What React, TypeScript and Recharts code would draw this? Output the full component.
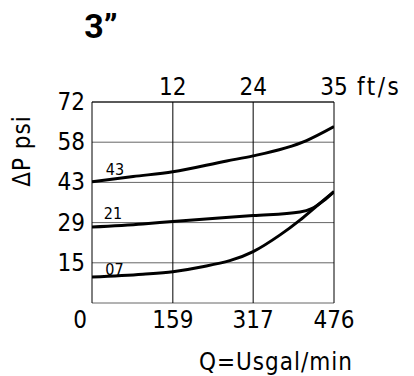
import { LineChart, Line, XAxis, YAxis, CartesianGrid, ReferenceLine } from 'recharts'

// flow (US gal/min) on the bottom, velocity (ft/s) on top, pressure drop (psi) up the side
const flowTicks = [0, 159, 317, 476]
const flowLabels = ['0', '159', '317', '476']
const velocityTicks = [159, 317, 476]
const velocityLabels = ['12', '24', '35']
const psiTicks = [0, 14.4, 28.8, 43.2, 57.6, 72]
const psiLabels = ['', '15', '29', '43', '58', '72']

const curve43 = [
  { q: 0, psi: 43.4 },
  { q: 81, psi: 45.3 },
  { q: 159, psi: 47.0 },
  { q: 265, psi: 50.9 },
  { q: 317, psi: 52.7 },
  { q: 422, psi: 58.2 },
  { q: 476, psi: 63.2 },
]
const curve21 = [
  { q: 0, psi: 27.2 },
  { q: 100, psi: 28.3 },
  { q: 159, psi: 29.2 },
  { q: 317, psi: 31.3 },
  { q: 409, psi: 32.6 },
  { q: 432, psi: 33.8 },
  { q: 455, psi: 36.6 },
  { q: 476, psi: 39.9 },
]
const curve07 = [
  { q: 0, psi: 9.3 },
  { q: 100, psi: 10.3 },
  { q: 159, psi: 11.2 },
  { q: 212, psi: 12.8 },
  { q: 317, psi: 18.4 },
  { q: 370, psi: 24.4 },
  { q: 409, psi: 29.7 },
  { q: 439, psi: 34.3 },
  { q: 476, psi: 39.9 },
]

const curveNames = ['43', '21', '07']

const font = "'DejaVu Sans Condensed', sans-serif"
const tickFont = { fontFamily: font, fontSize: 24, fill: '#000' }

// plot box: x 92..334, y 102..303
const renderPsiTick = ({ y, payload }: any) => (
  <text key={payload.value} x={85} y={y} textAnchor="end" dominantBaseline="central" {...tickFont}>
    {psiLabels[psiTicks.indexOf(payload.value)]}
  </text>
)

const renderFlowTick = ({ x, payload }: any) => (
  <text
    key={payload.value}
    x={x + (payload.value === 0 ? -12 : 0)}
    y={320}
    textAnchor="middle"
    dominantBaseline="central"
    {...tickFont}
  >
    {flowLabels[flowTicks.indexOf(payload.value)]}
  </text>
)

const renderVelocityTick = ({ x, payload }: any) => {
  const i = velocityTicks.indexOf(payload.value)
  return (
    <g key={payload.value}>
      <text x={x} y={87} textAnchor="middle" dominantBaseline="central" {...tickFont}>
        {velocityLabels[i]}
      </text>
      {i === velocityTicks.length - 1 && (
        <text x={x + 23} y={87} textAnchor="start" dominantBaseline="central" letterSpacing={2.5} {...tickFont}>
          ft/s
        </text>
      )}
    </g>
  )
}

export default function App() {
  return (
    <div style={{ position: 'relative', width: 414, height: 376, background: '#fff' }}>
      <style>{'body{margin:0}'}</style>
      <LineChart
        width={414}
        height={376}
        margin={{ top: 72, right: 80, bottom: 43, left: 32 }}
        style={{ position: 'absolute', left: 0, top: 0 }}
      >
        <CartesianGrid xAxisId="bottom" vertical={false} stroke="#666" strokeWidth={1} />
        <CartesianGrid xAxisId="bottom" horizontal={false} stroke="#000" strokeWidth={1} />
        <XAxis
          xAxisId="bottom"
          dataKey="q"
          type="number"
          domain={[0, 476]}
          ticks={flowTicks}
          axisLine={false}
          tickLine={false}
          height={30}
          tick={renderFlowTick}
          interval={0}
          allowDataOverflow
        />
        <XAxis
          xAxisId="top"
          orientation="top"
          dataKey="q"
          type="number"
          domain={[0, 476]}
          ticks={velocityTicks}
          axisLine={false}
          tickLine={false}
          height={30}
          tick={renderVelocityTick}
          interval={0}
          allowDataOverflow
        />
        <YAxis
          type="number"
          domain={[0, 72]}
          ticks={psiTicks}
          axisLine={false}
          tickLine={false}
          width={60}
          tick={renderPsiTick}
          interval={0}
          allowDataOverflow
        />
        <ReferenceLine xAxisId="bottom" y={72} stroke="#000" strokeWidth={1} />
        <Line xAxisId="bottom" data={curve43} dataKey="psi" type="monotone" stroke="#000" strokeWidth={3} dot={false} isAnimationActive={false} />
        <Line xAxisId="bottom" data={curve21} dataKey="psi" type="monotone" stroke="#000" strokeWidth={3} dot={false} isAnimationActive={false} />
        <Line xAxisId="bottom" data={curve07} dataKey="psi" type="monotone" stroke="#000" strokeWidth={3} dot={false} isAnimationActive={false} />
      </LineChart>
      <svg width={414} height={376} style={{ position: 'absolute', left: 0, top: 0, pointerEvents: 'none' }}>
        <text x={101} y={26} textAnchor="middle" dominantBaseline="central" fontFamily="Roboto, sans-serif" fontWeight={700} fontSize={34}>
          3”
        </text>
        <text
          x={22}
          y={151}
          transform="rotate(-90 22 151)"
          textAnchor="middle"
          dominantBaseline="central"
          letterSpacing={1}
          {...tickFont}
        >
          ΔP psi
        </text>
        <text x={353} y={362} textAnchor="end" dominantBaseline="central" letterSpacing={1} {...tickFont}>
          Q=Usgal/min
        </text>
        <text x={115} y={169} textAnchor="middle" dominantBaseline="central" fontFamily={font} fontSize={16}>
          {curveNames[0]}
        </text>
        <text x={113} y={213} textAnchor="middle" dominantBaseline="central" fontFamily={font} fontSize={16}>
          {curveNames[1]}
        </text>
        <text x={114.5} y={269.5} textAnchor="middle" dominantBaseline="central" fontFamily={font} fontSize={16}>
          {curveNames[2]}
        </text>
      </svg>
    </div>
  )
}
